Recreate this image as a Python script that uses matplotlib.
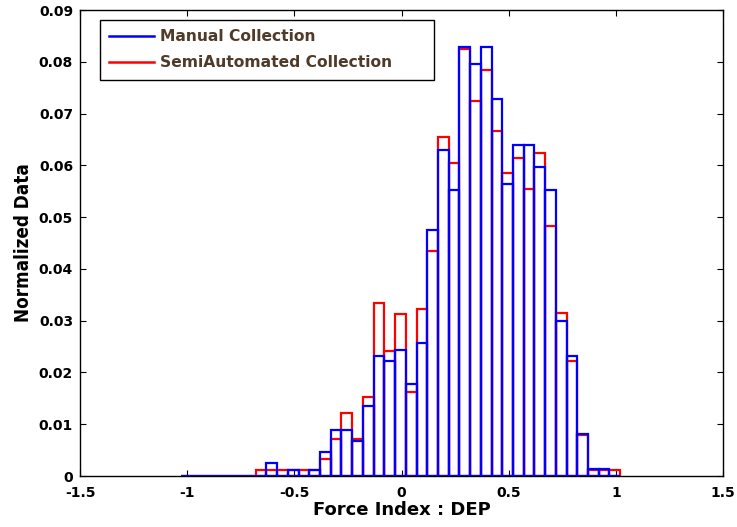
import numpy as np
import matplotlib
matplotlib.use('Agg')
import matplotlib.pyplot as plt

# histogram bins (width 0.05, first bin starts at -1.03)
bin_start = -1.03
bin_w = 0.05

manual = [0, 0, 0, 0, 0, 0, 0,
          0, 0.0026, 0, 0.0012, 0, 0.0012, 0.0047, 0.0089, 0.0089, 0.0067,
          0.0135, 0.0232, 0.0223, 0.0244, 0.0178, 0.0256, 0.0475, 0.0630,
          0.0552, 0.0829, 0.0796, 0.0829, 0.0728, 0.0564, 0.0640, 0.0640,
          0.0597, 0.0552, 0.0300, 0.0232, 0.0081, 0.0013, 0.0013, 0]
semi = [0, 0, 0, 0, 0, 0, 0,
        0.0012, 0.0012, 0.0012, 0.0012, 0.0012, 0.0012, 0.0033, 0.0071, 0.0122,
        0.0071, 0.0152, 0.0335, 0.0242, 0.0313, 0.0162, 0.0322, 0.0435, 0.0654,
        0.0605, 0.0824, 0.0725, 0.0785, 0.0667, 0.0586, 0.0615, 0.0554,
        0.0624, 0.0483, 0.0314, 0.0223, 0.0079, 0.0012, 0.0012, 0.0012]

xticks = [-1.5, -1, -0.5, 0, 0.5, 1, 1.5]
xticklabels = ['-1.5', '-1', '-0.5', '0', '0.5', '1', '1.5']
yticks = [0, 0.01, 0.02, 0.03, 0.04, 0.05, 0.06, 0.07, 0.08, 0.09]
yticklabels = ['0', '0.01', '0.02', '0.03', '0.04', '0.05', '0.06', '0.07', '0.08', '0.09']

plt.rcParams['font.family'] = ['DejaVu Sans']

centers = bin_start + bin_w / 2 + bin_w * np.arange(len(manual))

fig = plt.figure(figsize=(7.37, 5.27), dpi=100)
ax = fig.add_axes([80 / 737, 1 - 476 / 527, 643 / 737, 466 / 527])

ax.bar(centers, semi, width=bin_w, fill=False, edgecolor='#ff0000', linewidth=1.6, zorder=2)
ax.bar(centers, manual, width=bin_w, fill=False, edgecolor='#0000ff', linewidth=1.6, zorder=3)

ax.set_xlim(-1.5, 1.5)
ax.set_ylim(0, 0.09)
ax.set_xticks(xticks)
ax.set_xticklabels(xticklabels, fontweight='bold', fontsize=10)
ax.set_yticks(yticks)
ax.set_yticklabels(yticklabels, fontweight='bold', fontsize=10)
ax.tick_params(direction='in', top=True, right=True, length=4, width=0.8)
ax.tick_params(axis='x', pad=7)
ax.tick_params(axis='y', pad=5)
for s in ax.spines.values():
    s.set_linewidth(1.0)

ax.set_xlabel('Force Index : DEP', fontweight='bold', fontsize=13, labelpad=1)
ax.set_ylabel('Normalized Data', fontweight='bold', fontsize=13.5, fontstretch='condensed', labelpad=4)

h1, = ax.plot([], [], color='#0000ff', lw=1.8)
h2, = ax.plot([], [], color='#ff0000', lw=1.8)
leg = ax.legend([h1, h2], ['Manual Collection', 'SemiAutomated Collection'],
                loc='upper left', bbox_to_anchor=(20 / 643, 0, 334 / 643, 1 - 10 / 466),
                mode='expand', fancybox=False, framealpha=1, edgecolor='black',
                prop={'weight': 'bold', 'size': 11.2}, handlelength=2.9,
                handletextpad=0.35, borderpad=0.6, labelspacing=0.7, borderaxespad=0)
leg.get_frame().set_linewidth(1.0)
for t in leg.get_texts():
    t.set_color('#4f3b28')

plt.savefig('out.png')
